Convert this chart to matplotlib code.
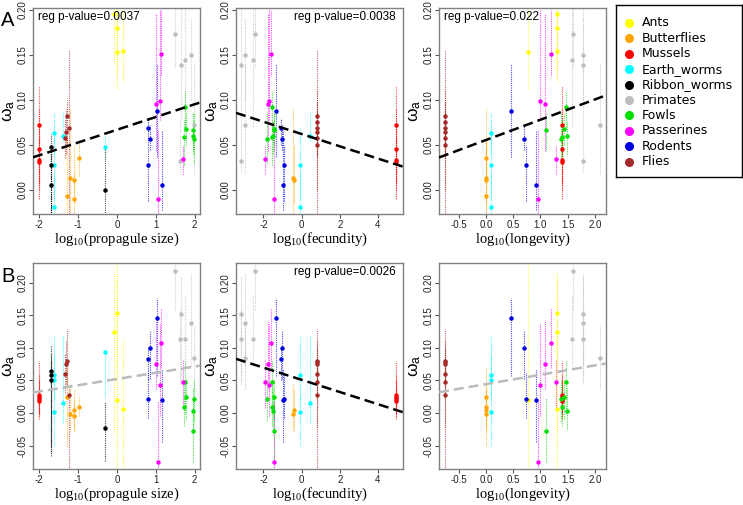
import numpy as np
import pandas as pd
import matplotlib
matplotlib.use('Agg')
import matplotlib.pyplot as plt

nan = np.nan

# legend order and colours
taxa = ['Ants', 'Butterflies', 'Mussels', 'Earth_worms', 'Ribbon_worms',
        'Primates', 'Fowls', 'Passerines', 'Rodents', 'Flies']
colors = ['#FFFF00', '#FFA500', '#FF0000', '#00FFFF', '#000000',
          '#BEBEBE', '#00E000', '#FF00FF', '#0000E0', '#A52A2A']

# one entry per species
taxon = (['Ants'] * 4 + ['Butterflies'] * 5 + ['Mussels'] * 4 + ['Earth_worms'] * 5
         + ['Ribbon_worms'] * 4 + ['Primates'] * 6 + ['Fowls'] * 6
         + ['Passerines'] * 5 + ['Rodents'] * 5 + ['Flies'] * 6)

log_prop = [-0.07, 0.00, 0.00, 0.15,
            -1.27, -1.21, -1.10, -1.09, -0.98,
            -2.0, -2.0, -2.0, -2.0,
            -1.62, -1.62, -1.62, -1.39, -0.30,
            -1.70, -1.70, -1.70, -0.30,
            1.49, 1.66, 1.63, 1.74, 1.90, 1.97,
            1.74, 1.77, 1.95, 1.95, 1.99, 1.73,
            1.00, 1.06, 1.11, 1.14, 1.70,
            0.79, 0.80, 0.85, 1.03, 1.15,
            -1.29, nan, -1.22, -1.30, -1.33, nan]
log_fec = ([nan] * 4 + [nan, -0.44, -0.40, nan, nan] + [4.96] * 4
           + [nan, -0.11, -0.11, 0.46, nan] + [nan] * 4
           + [-2.47, -3.17, -3.18, -2.56, -2.99, -2.99]
           + [-1.53, -1.47, -1.47, -1.50, -1.80, -1.55]
           + [-1.76, -1.44, -1.70, -1.63, -1.90]
           + [-0.94, -1.10, -1.05, -1.32, -0.97] + [0.82] * 6)
log_long = ([1.30, 1.30, 0.78, 1.30] + [0.0, 0.0, 0.0, nan, 0.0] + [1.40] * 4
            + [0.10, 0.10, 0.10, nan, nan] + [nan] * 4
            + [1.59, 1.78, 1.77, 1.58, 1.78, 2.09]
            + [1.47, 1.43, 1.11, 1.49, 1.38, 1.40]
            + [1.08, 0.95, 0.99, 1.19, 1.29]
            + [0.73, nan, 0.69, 0.47, 0.91] + [-0.75] * 6)

omega_A = [0.195, 0.180, 0.153, 0.154,
           -0.007, 0.013, 0.011, -0.010, 0.035,
           0.072, 0.045, 0.033, 0.031,
           0.063, 0.027, -0.019, 0.060, 0.048,
           0.047, 0.027, 0.005, 0.000,
           0.173, 0.139, 0.032, 0.144, 0.150, 0.072,
           0.092, 0.067, 0.066, 0.060, 0.056, 0.059,
           0.095, -0.010, 0.099, 0.151, 0.034,
           0.028, 0.069, 0.056, 0.088, 0.005,
           0.082, 0.075, 0.069, 0.064, 0.058, 0.050]
A_lo = [0.14, 0.13, 0.112, 0.12,
        -0.03, -0.03, -0.015, -0.03, 0.015,
        -0.01, 0.0, 0.005, 0.01,
        0.04, -0.01, -0.027, 0.054, 0.036,
        -0.03, -0.03, -0.03, -0.03,
        0.136, 0.08, 0.02, 0.07, 0.10, 0.017,
        0.068, 0.05, 0.044, 0.04, 0.03, 0.028,
        0.043, -0.027, 0.077, 0.128, 0.017,
        -0.013, 0.05, 0.044, 0.036, -0.023,
        0.05, 0.04, -0.027, 0.04, 0.035, 0.0]
A_hi = [0.26, 0.26, 0.26, 0.26,
        0.055, 0.09, 0.05, 0.02, 0.055,
        0.115, 0.09, 0.07, 0.06,
        0.085, 0.07, 0.02, 0.086, 0.06,
        0.062, 0.05, 0.04, 0.047,
        0.25, 0.21, 0.08, 0.21, 0.19, 0.14,
        0.11, 0.085, 0.085, 0.075, 0.085, 0.078,
        0.195, 0.066, 0.20, 0.20, 0.05,
        0.05, 0.08, 0.072, 0.14, 0.065,
        0.10, 0.11, 0.155, 0.09, 0.08, 0.09]

omega_B = [0.124, 0.154, 0.020, 0.006,
           0.025, -0.001, 0.005, -0.004, 0.009,
           0.028, 0.024, 0.021, 0.018,
           0.051, 0.058, 0.002, 0.016, 0.094,
           0.065, 0.058, 0.051, -0.023,
           0.218, 0.152, 0.114, 0.113, 0.138, 0.085,
           0.048, 0.024, -0.028, 0.003, 0.021, 0.009,
           0.075, -0.075, 0.043, 0.107, 0.048,
           0.021, 0.083, 0.100, 0.145, 0.020,
           0.079, 0.078, 0.027, 0.075, 0.059, 0.047]
B_lo = [-0.03, 0.06, -0.09, -0.09,
        -0.05, -0.03, -0.025, -0.03, -0.005,
        -0.009, -0.005, 0.0, 0.0,
        0.03, 0.02, -0.05, -0.015, 0.024,
        -0.066, -0.05, -0.06, -0.074,
        0.158, 0.05, 0.045, 0.072, 0.072, 0.037,
        0.0, -0.01, -0.076, -0.025, -0.012, -0.02,
        0.036, -0.09, -0.004, 0.069, 0.008,
        -0.007, 0.05, 0.052, 0.057, -0.044,
        0.04, 0.05, -0.09, 0.045, 0.03, -0.02]
B_hi = [0.214, 0.21, 0.24, 0.113,
        0.07, 0.045, 0.035, 0.02, 0.025,
        0.08, 0.06, 0.05, 0.04,
        0.09, 0.12, 0.03, 0.12, 0.096,
        0.104, 0.09, 0.08, 0.019,
        0.235, 0.21, 0.16, 0.179, 0.214, 0.133,
        0.08, 0.05, 0.023, 0.04, 0.05, 0.045,
        0.141, 0.017, 0.138, 0.160, 0.083,
        0.062, 0.10, 0.126, 0.176, 0.068,
        0.128, 0.10, 0.04, 0.11, 0.09, 0.08]

# regression lines: (intercept, slope)
reg_A = [(0.0666, 0.0142), (0.0619, -0.00683), (0.0552, 0.0226)]
reg_B = [(0.052, 0.00956), (0.0508, -0.00936), (0.0442, 0.0144)]
reg_colors_A = ['black', 'black', 'black']
reg_colors_B = ['#BBBBBB', 'black', '#BBBBBB']
pvals_A = ['0.0037', '0.0038', '0.022']
pvals_B = [None, '0.0026', None]

df = pd.DataFrame({'taxon': taxon, 'prop': log_prop, 'fec': log_fec, 'long': log_long,
                   'wA': omega_A, 'A_lo': A_lo, 'A_hi': A_hi,
                   'wB': omega_B, 'B_lo': B_lo, 'B_hi': B_hi})
cmap = dict(zip(taxa, colors))

plt.rcParams['font.family'] = ['Liberation Sans', 'DejaVu Sans']

fig = plt.figure(figsize=(7.43, 5.05), dpi=100)
W, H = 743, 505

col_left = [33, 236, 439]
col_w = 167
rows = [(8, 214), (263, 469)]

xcols = ['prop', 'fec', 'long']
xlims = [(-2.154, 2.137), (-3.44, 5.31), (-0.857, 2.2)]
xticks = [[-2, -1, 0, 1, 2], [-2, 0, 2, 4], [-0.5, 0.0, 0.5, 1.0, 1.5, 2.0]]
xticklabels = [['-2', '-1', '0', '1', '2'], ['-2', '0', '2', '4'],
               ['-0.5', '0.0', '0.5', '1.0', '1.5', '2.0']]
xlabels = ['(propagule size)', '(fecundity)', '(longevity)']
p_align = ['left', 'right', 'left']

row_specs = [
    ('wA', 'A_lo', 'A_hi', (-0.027, 0.202), [0.0, 0.05, 0.10, 0.15, 0.20], reg_A, reg_colors_A, pvals_A),
    ('wB', 'B_lo', 'B_hi', (-0.086, 0.230), [-0.05, 0.0, 0.05, 0.10, 0.15, 0.20], reg_B, reg_colors_B, pvals_B),
]

for r, (yc, loc, hic, ylim, yt, regs, rcols, pv) in enumerate(row_specs):
    top, bot = rows[r]
    for c in range(3):
        ax = fig.add_axes([col_left[c] / W, (H - bot) / H, col_w / W, (bot - top) / H])
        for t in taxa:
            sub = df[(df.taxon == t)].dropna(subset=[xcols[c]])
            ax.vlines(sub[xcols[c]], sub[loc], sub[hic], colors=cmap[t],
                      linestyles=(0, (1, 1)), linewidth=0.8, alpha=0.7, zorder=2)
            ax.plot(sub[xcols[c]], sub[yc], 'o', ms=2.2, color=cmap[t],
                    mec=cmap[t], zorder=3)
        b, m = regs[c]
        ax.axline((0, b), slope=m, color=rcols[c], lw=1.8, dashes=(4, 2.0), zorder=4)
        ax.set_xlim(*xlims[c])
        ax.set_ylim(*ylim)
        ax.set_xticks(xticks[c])
        ax.set_xticklabels(xticklabels[c])
        ax.set_yticks(yt)
        ax.set_yticklabels(['%.2f' % v for v in yt], rotation=90, va='center')
        ax.tick_params(labelsize=7, length=2.8, width=0.8, colors='#555555',
                       labelcolor='#222222', pad=1.2)
        for s in ax.spines.values():
            s.set_color('#808080')
            s.set_linewidth(1.0)
        ax.set_xlabel(r'log$_{\mathregular{10}}$' + xlabels[c], fontfamily='Liberation Serif',
                      fontsize=10.5, labelpad=0.5)
        ax.set_ylabel(r'$\mathregular{\omega_a}$', fontsize=12.5, labelpad=0)
        if pv[c] is not None:
            xpos = 0.03 if p_align[c] == 'left' else 0.955
            ax.text(xpos, 0.955, 'reg p-value=' + pv[c], transform=ax.transAxes,
                    ha=p_align[c], va='center', fontsize=8.5, zorder=5)

fig.text(1 / W, 1 - 20 / H, 'A', fontsize=14.5, va='center', ha='left')
fig.text(1 / W, 1 - 276 / H, 'B', fontsize=14.5, va='center', ha='left')

# legend box
lax = fig.add_axes([616 / W, (H - 177) / H, 126 / W, 172 / H])
lax.set_xlim(0, 1)
lax.set_ylim(0, 1)
lax.set_xticks([])
lax.set_yticks([])
for s in lax.spines.values():
    s.set_color('black')
    s.set_linewidth(1.0)
for i, (t, col) in enumerate(zip(taxa, colors)):
    yy = 1 - (18 + 15.4 * i) / 172
    lax.plot([0.105], [yy], 'o', ms=5.5, color=col)
    lax.text(0.205, yy, t, va='center', ha='left', fontsize=9, fontfamily='DejaVu Sans')

fig.savefig('out.png', dpi=100)
